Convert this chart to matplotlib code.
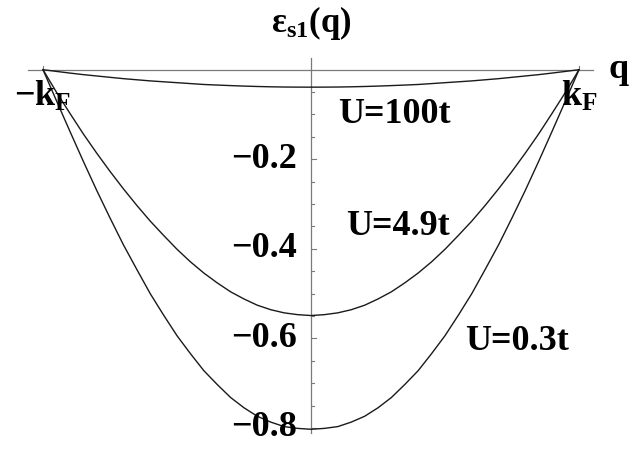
import numpy as np
import matplotlib
matplotlib.use("Agg")
import matplotlib.pyplot as plt

plt.rcParams["font.family"] = ["Liberation Serif", "DejaVu Serif"]
plt.rcParams["mathtext.fontset"] = "custom"
plt.rcParams["mathtext.rm"] = "Liberation Serif:bold"
plt.rcParams["mathtext.bf"] = "Liberation Serif:bold"
plt.rcParams["mathtext.it"] = "Liberation Serif:bold"

# momentum in units of k_F, from the left Fermi point to the centre
q_half = [-1.0, -0.95, -0.9, -0.85, -0.8, -0.75, -0.7, -0.65, -0.6, -0.55, -0.5,
          -0.45, -0.4, -0.35, -0.3, -0.25, -0.2, -0.15, -0.1, -0.05, 0.0]

# spinon energy on the same points (curves are even in q)
half_u100 = [0.0, -0.0038, -0.0075, -0.011, -0.014, -0.017, -0.020, -0.0225, -0.025,
             -0.027, -0.029, -0.031, -0.033, -0.0343, -0.0355, -0.0366, -0.0375,
             -0.0382, -0.0387, -0.0389, -0.039]
half_u49 = [0.0, -0.050, -0.097, -0.143, -0.186, -0.227, -0.266, -0.303, -0.338,
            -0.370, -0.401, -0.429, -0.454, -0.476, -0.496, -0.512, -0.526,
            -0.536, -0.543, -0.547, -0.549]
half_u03 = [0.0, -0.069, -0.137, -0.204, -0.269, -0.331, -0.391, -0.446, -0.500,
            -0.548, -0.594, -0.634, -0.672, -0.703, -0.732, -0.755, -0.774,
            -0.787, -0.797, -0.801, -0.803]

q = q_half + [-v for v in q_half[-2::-1]]
eps_u100 = half_u100 + half_u100[-2::-1]
eps_u49 = half_u49 + half_u49[-2::-1]
eps_u03 = half_u03 + half_u03[-2::-1]

curve_labels = ["U=100t", "U=4.9t", "U=0.3t"]
y_ticks = [-0.2, -0.4, -0.6, -0.8]
y_tick_labels = ["\u22120.2", "\u22120.4", "\u22120.6", "\u22120.8"]

W, H = 631, 449
fig = plt.figure(figsize=(W / 100, H / 100), dpi=100)
ax = fig.add_axes([0, 0, 1, 1])

# pixel mapping: x_px = 311 + 268*q, y_px(from top) = 69.7 - 447.8*eps
ax.set_xlim(-311 / 268, (W - 311) / 268)
ax.set_ylim(-(H - 69.7) / 447.8, 69.7 / 447.8)
ax.axis("off")

axis_col = "#7a7a7a"
ax.plot([-1.056, 1.052], [0, 0], color=axis_col, lw=0.9, zorder=1)
ax.plot([0, 0], [-0.812, 0.026], color=axis_col, lw=0.9, zorder=1)

# y ticks (major and minor), drawn to the right of the axis
tx = 1 / 268.0
for v in np.arange(-0.05, -0.801, -0.05):
    major = abs(round(v / 0.2) * 0.2 - v) < 1e-6
    ln = 5 * tx if major else 3 * tx
    ax.plot([0, ln], [v, v], color=axis_col, lw=0.8, zorder=1)

for v, lab in zip(y_ticks, y_tick_labels):
    ax.text(-14 * tx, v, lab, ha="right", va="center", fontsize=26,
            fontweight="bold", color="black")

for qq in (-1.0, 1.0):
    ax.plot([qq, qq], [0, 4 / 447.8], color=axis_col, lw=0.8, zorder=1)

ax.text(-1.0, -0.06, r"$-\mathbf{k}_{\mathbf{F}}$", ha="center", va="center",
        fontsize=26, color="black")
ax.text(1.0, -0.06, r"$\mathbf{k}_{\mathbf{F}}$", ha="center", va="center",
        fontsize=26, color="black")

ax.text(1.11, 0.0, "q", ha="left", va="center", fontsize=26,
        fontweight="bold", color="black")
ax.text(0.0, 0.105, r"$\mathbf{\epsilon}_{\mathbf{s1}}\mathbf{(q)}$", ha="center",
        va="center", fontsize=25, color="black")

for vals in (eps_u100, eps_u49, eps_u03):
    ax.plot(q, vals, color="#1a1a1a", lw=1.0, zorder=2,
            solid_joinstyle="round")

ax.text(0.31, -0.10, curve_labels[0], ha="center", va="center", fontsize=26,
        fontweight="bold")
ax.text(0.325, -0.35, curve_labels[1], ha="center", va="center", fontsize=26,
        fontweight="bold")
ax.text(0.77, -0.607, curve_labels[2], ha="center", va="center", fontsize=26,
        fontweight="bold")

fig.savefig("out.png", dpi=100, facecolor="white")
